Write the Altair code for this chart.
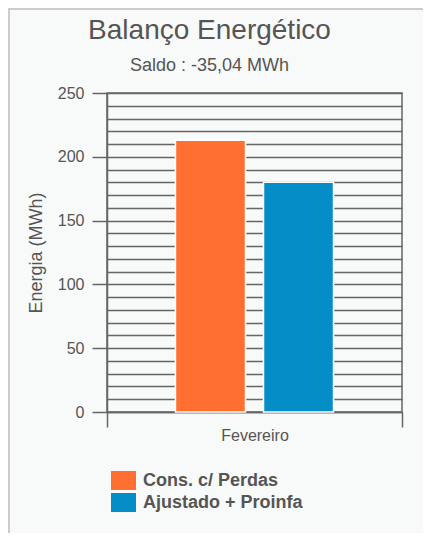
import altair as alt
import pandas as pd

# ---- data ----
months = ["Fevereiro"]
series = ["Cons. c/ Perdas", "Ajustado + Proinfa"]
values = [213.0, 180.0]
colors = ["#ff6f31", "#058dc7"]
grid_values = [0, 10, 20, 30, 40, 50, 60, 70, 80, 90, 100, 110, 120, 130, 140,
               150, 160, 170, 180, 190, 200, 210, 220, 230, 240, 250]
title_text = "Balanço Energético"
subtitle_text = "Saldo : -35,04 MWh"
y_title = "Energia (MWh)"

df = pd.DataFrame({"mes": months * len(series), "serie": series, "valor": values})

W, H = 295, 319
PAD = {"left": 99, "top": 85, "right": 21, "bottom": 121}

axis_col = "#666666"
text_col = "#555555"

bars = alt.Chart(df).mark_bar(stroke="white", strokeWidth=1.5).encode(
    x=alt.X(
        "mes:N",
        title=None,
        scale=alt.Scale(paddingInner=0, paddingOuter=0),
        axis=alt.Axis(
            tickBand="extent", tickSize=15, tickColor=axis_col, tickWidth=1.5,
            domainColor=axis_col, domainWidth=1.5, labelAngle=0,
            labelFontSize=16, labelColor=text_col, labelPadding=0, grid=False,
        ),
    ),
    xOffset=alt.XOffset(
        "serie:N", sort=series,
        scale=alt.Scale(paddingInner=0.2045, paddingOuter=0.778),
    ),
    y=alt.Y(
        "valor:Q",
        scale=alt.Scale(domain=[0, 250], nice=False),
        axis=alt.Axis(
            values=grid_values, grid=True, gridColor=axis_col, gridWidth=1.3,
            labelExpr="datum.value % 50 === 0 ? datum.label : ''",
            tickOpacity={"condition": {"test": "datum.value % 50 === 0", "value": 1}, "value": 0},
            tickSize=15, tickColor=axis_col, tickWidth=1.5,
            domainColor=axis_col, domainWidth=1.5,
            labelFontSize=16, labelColor=text_col, labelPadding=8,
            title=y_title, titleFontSize=18, titleFontWeight="normal",
            titleColor=text_col, titlePadding=12,
        ),
    ),
    color=alt.Color(
        "serie:N", sort=series,
        scale=alt.Scale(domain=series, range=colors),
        legend=alt.Legend(
            orient="none", legendX=7, legendY=378, direction="vertical",
            title=None, symbolType="M-1.316,-1H1.316V1H-1.316Z", symbolSize=361,
            symbolStrokeWidth=0, symbolOpacity=1,
            labelFontSize=18, labelFontWeight="bold", labelColor=text_col,
            labelOffset=10, rowPadding=3, padding=0,
        ),
    ),
)

one = pd.DataFrame({"a": [0]})
border_left = alt.Chart(one).mark_rule(color="#cccccc", strokeWidth=2).encode(
    x=alt.value(-98), y=alt.value(-85), y2=alt.value(H + PAD["bottom"])
)
border_top = alt.Chart(one).mark_rule(color="#cccccc", strokeWidth=2).encode(
    x=alt.value(-99), x2=alt.value(W + PAD["right"]), y=alt.value(-84)
)

chart = alt.layer(bars, border_left, border_top).properties(
    width=W, height=H,
    autosize=alt.AutoSizeParams(type="none"),
    padding=PAD,
    background="#f8f9f9",
    title=alt.TitleParams(
        title_text, subtitle=subtitle_text, fontSize=28, subtitleFontSize=18,
        color=text_col, subtitleColor=text_col, fontWeight="normal",
        anchor="middle", dx=-45, dy=68, offset=0, subtitlePadding=12,
    ),
).configure(font="Liberation Sans").configure_view(stroke=axis_col, strokeWidth=1.5)

chart.save("out.html", embed_options={"renderer": "svg", "actions": False})
